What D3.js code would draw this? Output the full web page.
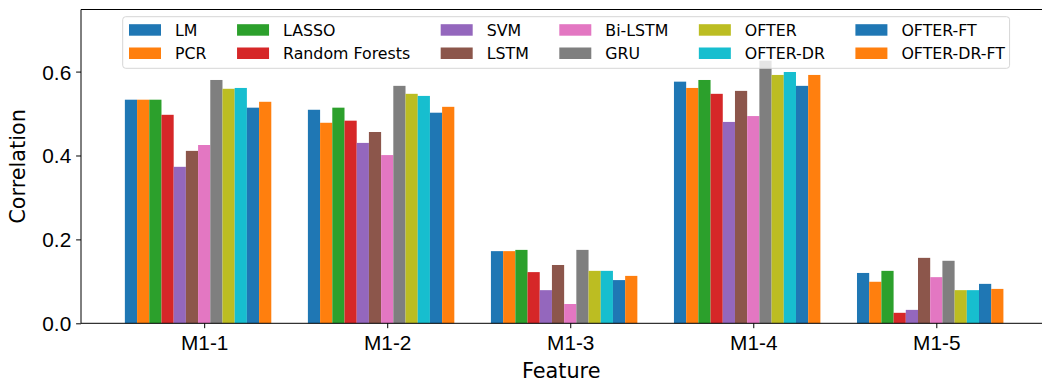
<!DOCTYPE html>
<html><head><meta charset="utf-8">
<script src="https://cdn.jsdelivr.net/npm/d3@7"></script>
<style>
html,body{margin:0;padding:0;background:#fff;}
svg{display:block;font-family:"DejaVu Sans",sans-serif;}
</style></head>
<body>
<svg id="chart" width="1042" height="379"></svg>
<script>
const categories = ["M1-1","M1-2","M1-3","M1-4","M1-5"];
const seriesNames = ["LM","PCR","LASSO","Random Forests","SVM","LSTM","Bi-LSTM","GRU","OFTER","OFTER-DR","OFTER-FT","OFTER-DR-FT"];
const seriesColors = ["#1f77b4","#ff7f0e","#2ca02c","#d62728","#9467bd","#8c564b","#e377c2","#7f7f7f","#bcbd22","#17becf","#1f77b4","#ff7f0e"];
const valLM        = [0.533, 0.509, 0.172, 0.576, 0.120];
const valPCR       = [0.533, 0.478, 0.172, 0.561, 0.099];
const valLASSO     = [0.533, 0.514, 0.175, 0.580, 0.125];
const valRF        = [0.497, 0.483, 0.122, 0.547, 0.025];
const valSVM       = [0.373, 0.430, 0.079, 0.480, 0.032];
const valLSTM      = [0.411, 0.456, 0.139, 0.554, 0.156];
const valBiLSTM    = [0.425, 0.401, 0.046, 0.494, 0.110];
const valGRU       = [0.580, 0.566, 0.175, 0.626, 0.149];
const valOFTER     = [0.559, 0.547, 0.125, 0.592, 0.079];
const valOFTERDR   = [0.561, 0.542, 0.125, 0.599, 0.079];
const valOFTERFT   = [0.514, 0.502, 0.103, 0.566, 0.094];
const valOFTERDRFT = [0.528, 0.516, 0.113, 0.592, 0.082];
const yTicks = [0.0, 0.2, 0.4, 0.6];
const yLabel = "Correlation";
const xLabel = "Feature";

const seriesValues = [valLM,valPCR,valLASSO,valRF,valSVM,valLSTM,valBiLSTM,valGRU,valOFTER,valOFTERDR,valOFTERFT,valOFTERDRFT];

const svg = d3.select("#chart");
const L = 81, R = 1047.4, T = 9.5, B = 323.3;
const nS = seriesNames.length;
const bw = 0.8 / nS;
const x = d3.scaleLinear().domain([-0.673, 4.607]).range([L, R]);
const y = d3.scaleLinear().domain([0, 0.748]).range([B, T]);

// bars
const gBars = svg.append("g");
seriesValues.forEach((vals, j) => {
  gBars.selectAll(null).data(vals).enter().append("rect")
    .attr("x", (d, i) => x(i + (j - 6) * bw - bw / 2))
    .attr("width", x(bw) - x(0))
    .attr("y", d => y(d))
    .attr("height", d => y(0) - y(d))
    .attr("fill", seriesColors[j]);
});

// axes
const fs = 20.8;
const xAxis = d3.axisBottom(x).tickValues(categories.map((c, i) => i))
  .tickFormat(i => categories[i]).tickSize(4.9).tickPadding(4.9);
const gx = svg.append("g").attr("transform", `translate(0,${B})`).call(xAxis);
gx.select(".domain").remove();
gx.selectAll("line").attr("stroke", "#000").attr("stroke-width", 1);
gx.selectAll("text").attr("font-size", fs).attr("fill", "#000").attr("dy", null).attr("y", 27.2);

const yAxis = d3.axisLeft(y).tickValues(yTicks).tickFormat(d3.format(".1f")).tickSize(4.9).tickPadding(4.9);
const gy = svg.append("g").attr("transform", `translate(${L},0)`).call(yAxis);
gy.select(".domain").remove();
gy.selectAll("line").attr("stroke", "#000").attr("stroke-width", 1);
gy.selectAll("text").attr("font-size", fs).attr("fill", "#000").attr("dy", "0.36em");

// spines
svg.append("line").attr("x1", L).attr("x2", L).attr("y1", T).attr("y2", B).attr("stroke", "#000").attr("stroke-width", 1);
svg.append("line").attr("x1", L).attr("x2", R).attr("y1", B).attr("y2", B).attr("stroke", "#000").attr("stroke-width", 1);
svg.append("line").attr("x1", L).attr("x2", R).attr("y1", T).attr("y2", T).attr("stroke", "#000").attr("stroke-width", 1);
svg.append("line").attr("x1", R).attr("x2", R).attr("y1", T).attr("y2", B).attr("stroke", "#000").attr("stroke-width", 1);

// axis labels
svg.append("text").attr("x", (L + R) / 2 - 3).attr("y", 378).attr("text-anchor", "middle")
  .attr("font-size", fs).attr("fill", "#000").text(xLabel);
svg.append("text").attr("transform", `translate(25,${(T + B) / 2}) rotate(-90)`).attr("text-anchor", "middle")
  .attr("font-size", fs).attr("fill", "#000").text(yLabel);

// legend
const lfs = 15.8;
const legLeft = 122.7, legTop = 16.7, legH = 51.6;
const patchW = 32, patchH = 11.5, textPad = 14, colSpace = 30.5;
const gLeg = svg.append("g");
const legRect = gLeg.append("rect").attr("x", legLeft).attr("y", legTop).attr("height", legH)
  .attr("rx", 3).attr("fill", "#fff").attr("fill-opacity", 0.8).attr("stroke", "#d6d6d6").attr("stroke-width", 1);
const nCol = 6, rowBase = [35.7, 59];
let cx = 129;
for (let c = 0; c < nCol; c++) {
  let maxW = 0;
  for (let r = 0; r < 2; r++) {
    const k = c * 2 + r;
    gLeg.append("rect").attr("x", cx).attr("y", rowBase[r] - patchH).attr("width", patchW).attr("height", patchH)
      .attr("fill", seriesColors[k]);
    const t = gLeg.append("text").attr("x", cx + patchW + textPad).attr("y", rowBase[r])
      .attr("font-size", lfs).attr("fill", "#000").text(seriesNames[k]);
    maxW = Math.max(maxW, t.node().getComputedTextLength());
  }
  if (c < nCol - 1) cx += patchW + textPad + maxW + colSpace;
  else cx += patchW + textPad + maxW;
}
legRect.attr("width", cx + 4.6 - legLeft);
</script>
</body></html>
